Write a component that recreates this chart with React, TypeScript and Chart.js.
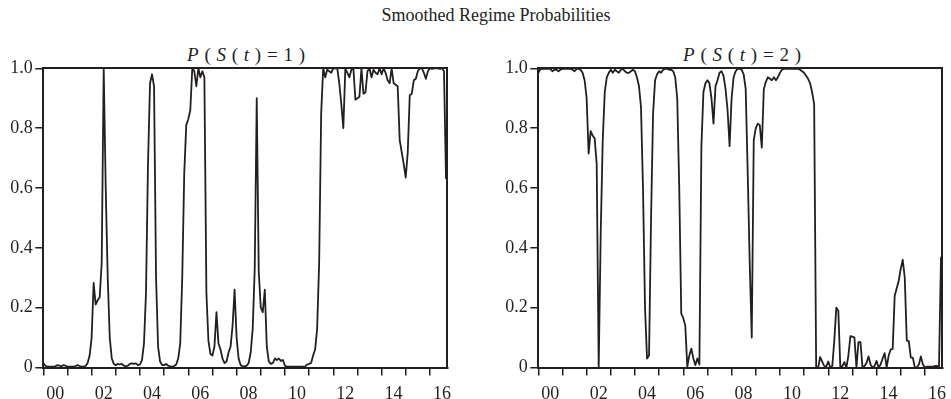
import React, { useEffect, useRef } from "react";
import { Chart, registerables } from "chart.js";

Chart.register(...registerables);

// ---- data ----
const START_YEAR = 2000; // first observation: 2000M01, monthly
const X_MAX = 2016.72;
const yearTicks = [2000, 2001, 2002, 2003, 2004, 2005, 2006, 2007, 2008, 2009, 2010, 2011, 2012, 2013, 2014, 2015, 2016];
const yearLabelYears = [2000, 2002, 2004, 2006, 2008, 2010, 2012, 2014, 2016];
const yearLabels = ["00", "02", "04", "06", "08", "10", "12", "14", "16"];
const yTickValues = [0, 0.2, 0.4, 0.6, 0.8, 1.0];
const yTickLabels = ["0", "0.2", "0.4", "0.6", "0.8", "1.0"];

// P(S(t)=1), monthly 2000M01..2016M09
const regime1: number[] = [
  0.015, 0.006, 0.003, 0.003, 0.003, 0.003, 0.004, 0.008, 0.006, 0.004,
  0.008, 0.006, 0.003, 0.003, 0.003, 0.003, 0.005, 0.008, 0.005, 0.003,
  0.003, 0.005, 0.015, 0.04, 0.1, 0.283, 0.21, 0.225, 0.235, 0.35,
  1.0, 0.6, 0.3, 0.1, 0.03, 0.012, 0.008, 0.012, 0.01, 0.012,
  0.006, 0.004, 0.006, 0.012, 0.014, 0.012, 0.014, 0.008, 0.01, 0.025,
  0.08, 0.25, 0.68, 0.95, 0.98, 0.94, 0.3, 0.07, 0.02, 0.008,
  0.008, 0.012, 0.006, 0.004, 0.003, 0.005, 0.01, 0.03, 0.08, 0.3,
  0.65, 0.81, 0.83, 0.86, 1.0, 0.99, 0.94, 1.0, 0.97, 0.99,
  0.97, 0.25, 0.09, 0.045, 0.04, 0.07, 0.185, 0.08, 0.06, 0.03,
  0.015, 0.02, 0.05, 0.07, 0.14, 0.26, 0.1, 0.03, 0.008, 0.004,
  0.004, 0.006, 0.015, 0.05, 0.13, 0.33, 0.9, 0.32, 0.2, 0.185,
  0.26, 0.07, 0.02, 0.012, 0.015, 0.03, 0.025, 0.03, 0.022, 0.025,
  0.006, 0.003, 0.003, 0.003, 0.003, 0.003, 0.003, 0.003, 0.003, 0.003,
  0.003, 0.01, 0.012, 0.015, 0.04, 0.06, 0.13, 0.35, 0.85, 1.0,
  0.97, 0.995, 0.99, 0.985, 1.0, 1.0, 1.0, 0.95, 0.88, 0.8,
  1.0, 0.985, 0.97, 0.995, 1.0, 0.895, 0.9, 0.905, 1.0, 0.915,
  0.92, 0.99, 1.0, 0.97, 0.995, 0.985, 0.98, 1.0, 0.98, 1.0,
  0.985, 0.96, 0.95, 1.0, 0.95, 0.945, 0.94, 0.76, 0.72, 0.68,
  0.635, 0.72, 0.91, 0.915, 0.96, 0.965, 0.99, 1.0, 1.0, 0.985,
  0.965, 0.99, 1.0, 0.998, 1.0, 1.0, 1.0, 0.998, 1.0, 0.99,
  0.63,
];

// P(S(t)=2), monthly 2000M01..2016M09
const regime2: number[] = [
  0.985, 0.997, 0.998, 0.998, 0.998, 0.998, 0.998, 0.99, 0.995, 0.995,
  0.99, 0.995, 0.998, 0.998, 0.998, 0.998, 0.998, 0.995, 0.99, 0.998,
  0.998, 0.995, 0.985, 0.96, 0.9, 0.715, 0.79, 0.775, 0.765, 0.68,
  0.0, 0.45, 0.76, 0.92, 0.97, 0.985, 0.995, 0.985, 0.995, 0.99,
  0.985, 0.995, 0.998, 0.99, 0.985, 0.985, 0.99, 0.995, 0.99, 0.97,
  0.94, 0.87, 0.6, 0.2, 0.03, 0.04, 0.5, 0.85, 0.96, 0.98,
  0.99, 0.985, 0.995, 0.998, 0.998, 0.995, 0.995, 0.99, 0.97, 0.9,
  0.6, 0.18, 0.165, 0.14, 0.003, 0.04, 0.063, 0.03, 0.008, 0.03,
  0.01, 0.74, 0.92, 0.95, 0.96, 0.95, 0.9, 0.815, 0.94, 0.96,
  0.985, 0.99, 0.975, 0.93, 0.86, 0.74, 0.9, 0.97, 0.99, 0.998,
  0.998, 0.995, 0.98, 0.93, 0.65, 0.35, 0.1, 0.76, 0.8, 0.815,
  0.81, 0.735, 0.93, 0.955, 0.97, 0.965, 0.96, 0.97, 0.96, 0.97,
  0.985, 0.995, 0.998, 0.998, 0.998, 0.998, 0.998, 0.998, 0.998, 0.998,
  0.995, 0.99, 0.985, 0.975, 0.965, 0.95, 0.92, 0.88, 0.0, 0.0,
  0.035, 0.02, 0.005, 0.003, 0.02, 0.0, 0.005, 0.09, 0.2, 0.19,
  0.0, 0.005, 0.018, 0.0, 0.04, 0.105, 0.103, 0.1, 0.0, 0.085,
  0.085, 0.0, 0.005, 0.015, 0.037, 0.01, 0.0, 0.005, 0.022, 0.0,
  0.01, 0.03, 0.048, 0.0, 0.04, 0.06, 0.062, 0.24, 0.265, 0.29,
  0.33, 0.36, 0.3, 0.09, 0.088, 0.033, 0.033, 0.0, 0.0, 0.01,
  0.037, 0.01, 0.0, 0.003, 0.003, 0.003, 0.003, 0.005, 0.005, 0.003,
  0.37,
];

// ---- styling ----
const INK = "#231f20";
const SERIF = "'Liberation Serif', 'Times New Roman', Times, serif";
const CANVAS_W = 470;
const CANVAS_TOP = 55;
const CANVAS_H = 344;

function makeConfig(values: number[]): any {
  const frameBorder = { display: true, color: INK, width: 2 };
  return {
    type: "line",
    data: {
      datasets: [
        {
          data: values.map((v, i) => ({ x: START_YEAR + i / 12, y: v })),
          borderColor: INK,
          borderWidth: 1.8,
          pointRadius: 0,
          tension: 0,
          fill: false,
          borderJoinStyle: "round",
        },
      ],
    },
    options: {
      animation: false,
      responsive: false,
      events: [],
      layout: { padding: { top: 8.5, right: 22.7, left: 0, bottom: 0 } },
      plugins: {
        legend: { display: false },
        tooltip: { enabled: false },
        title: { display: false },
      },
      scales: {
        x: {
          type: "linear",
          position: "bottom",
          min: START_YEAR,
          max: X_MAX,
          afterBuildTicks: (s: any) => {
            s.ticks = yearTicks.map((v) => ({ value: v }));
          },
          afterFit: (s: any) => {
            s.height = 31.5;
          },
          grid: { drawOnChartArea: false, drawTicks: true, tickLength: 8, color: INK, lineWidth: 1.5 },
          border: frameBorder,
          ticks: {
            autoSkip: false,
            maxRotation: 0,
            minRotation: 0,
            labelOffset: 12,
            padding: 8,
            color: INK,
            font: { family: SERIF, size: 18 },
            callback: (v: number) => {
              const k = yearLabelYears.indexOf(Math.round(v));
              return k >= 0 ? yearLabels[k] : "";
            },
          },
        },
        y: {
          type: "linear",
          position: "left",
          min: 0,
          max: 1,
          afterBuildTicks: (s: any) => {
            s.ticks = yTickValues.map((v) => ({ value: v }));
          },
          afterFit: (s: any) => {
            s.width = 43.3;
          },
          grid: { drawOnChartArea: false, drawTicks: true, tickLength: 8, color: INK, lineWidth: 1.5 },
          border: frameBorder,
          ticks: {
            padding: 2.5,
            color: INK,
            font: { family: SERIF, size: 18 },
            callback: (_v: number, i: number) => yTickLabels[i],
          },
        },
        xTop: {
          type: "linear",
          position: "top",
          min: START_YEAR,
          max: X_MAX,
          grid: { display: true, drawOnChartArea: false, drawTicks: false },
          ticks: { display: false },
          border: frameBorder,
          afterFit: (s: any) => {
            s.height = 0;
          },
        },
        yRight: {
          type: "linear",
          position: "right",
          min: 0,
          max: 1,
          grid: { display: true, drawOnChartArea: false, drawTicks: false },
          ticks: { display: false },
          border: frameBorder,
          afterFit: (s: any) => {
            s.width = 0;
          },
        },
      },
    },
  };
}

const subStyle = (cx: number): React.CSSProperties => ({
  position: "absolute",
  left: cx,
  top: 45,
  transform: "translateX(-50%)",
  whiteSpace: "pre",
  fontFamily: SERIF,
  fontSize: 19,
  lineHeight: "19px",
  wordSpacing: "1px",
  color: INK,
});

export default function App() {
  const leftRef = useRef<HTMLCanvasElement>(null);
  const rightRef = useRef<HTMLCanvasElement>(null);

  useEffect(() => {
    const c1 = new Chart(leftRef.current as HTMLCanvasElement, makeConfig(regime1));
    const c2 = new Chart(rightRef.current as HTMLCanvasElement, makeConfig(regime2));
    return () => {
      c1.destroy();
      c2.destroy();
    };
  }, []);

  return (
    <div
      style={{
        position: "absolute",
        left: 0,
        top: 0,
        width: 951,
        height: 399,
        background: "#fff",
        overflow: "hidden",
      }}
    >
      <div
        style={{
          position: "absolute",
          left: 496,
          top: 6,
          transform: "translateX(-50%)",
          whiteSpace: "nowrap",
          fontFamily: SERIF,
          fontSize: 18,
          lineHeight: "18px",
          color: INK,
        }}
      >
        Smoothed Regime Probabilities
      </div>
      <div style={subStyle(246)}>
        <i>P</i> ( <i>S</i> ( <i>t</i> ) = 1 )
      </div>
      <div style={subStyle(742)}>
        <i>P</i> ( <i>S</i> ( <i>t</i> ) = 2 )
      </div>
      <canvas
        ref={leftRef}
        width={CANVAS_W}
        height={CANVAS_H}
        style={{ position: "absolute", left: 0, top: CANVAS_TOP }}
      />
      <canvas
        ref={rightRef}
        width={CANVAS_W}
        height={CANVAS_H}
        style={{ position: "absolute", left: 495, top: CANVAS_TOP }}
      />
    </div>
  );
}
